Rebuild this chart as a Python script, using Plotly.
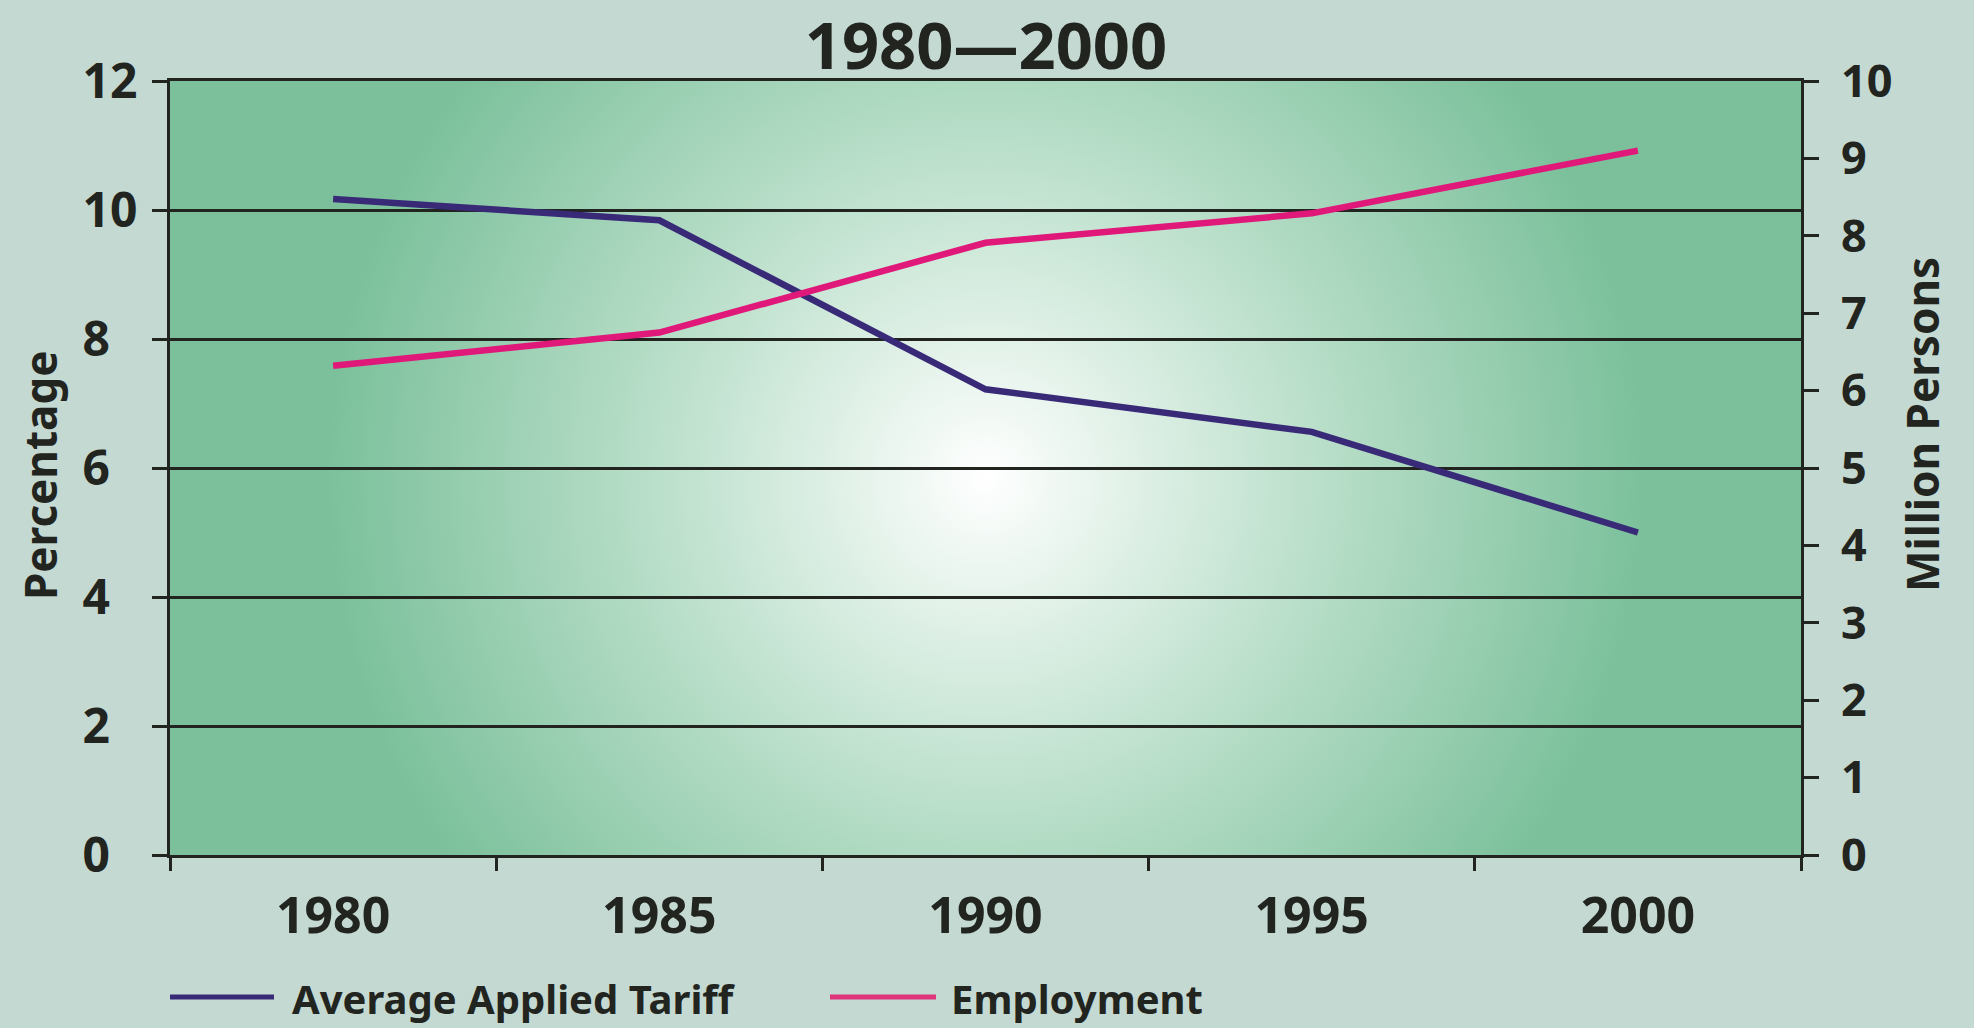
import base64
import plotly.graph_objects as go

# ---- data ----
years = ["1980", "1985", "1990", "1995", "2000"]
tariff = [10.17, 9.84, 7.22, 6.56, 5.0]          # Average Applied Tariff (%)
employment = [6.32, 6.75, 7.91, 8.29, 9.10]      # Employment (million persons)
left_ticks = [0, 2, 4, 6, 8, 10, 12]
left_ticktext = ["0\u2007", "2\u2007", "4\u2007", "6\u2007", "8\u2007", "10", "12"]
right_ticks = [0, 1, 2, 3, 4, 5, 6, 7, 8, 9, 10]
title_text = "1980\u20142000"
left_title = "Percentage"
right_title = "Million Persons"
series_names = ["Average Applied Tariff", "Employment"]

# ---- style ----
FONT = "Comic Sans MS, Noto Sans, sans-serif"
INK = "#222420"
NAVY = "#392A78"
PINK = "#E0187A"
PAPER = "#C4D9D2"
GREEN = "#7BC09B"

W, H = 1974, 1028
ML, MR, MT, MB = 170, 173, 81, 173
PW, PH = W - ML - MR, H - MT - MB

svg = f'''<svg xmlns="http://www.w3.org/2000/svg" width="{PW}" height="{PH}" viewBox="0 0 {PW} {PH}" preserveAspectRatio="none">
<defs><radialGradient id="g" gradientUnits="userSpaceOnUse" cx="816" cy="397" r="660">
<stop offset="0" stop-color="#FFFFFF"/><stop offset="0.5" stop-color="#BADFCA"/><stop offset="1" stop-color="{GREEN}"/>
</radialGradient></defs><rect x="0" y="0" width="{PW}" height="{PH}" fill="url(#g)"/></svg>'''
svg_uri = "data:image/svg+xml;base64," + base64.b64encode(svg.encode()).decode()

fig = go.Figure()
fig.add_trace(go.Scatter(x=years, y=tariff, name=series_names[0], mode="lines",
                         line=dict(color=NAVY, width=6.5), yaxis="y", showlegend=False))
fig.add_trace(go.Scatter(x=years, y=employment, name=series_names[1], mode="lines",
                         line=dict(color=PINK, width=6.5), yaxis="y2", showlegend=False))

def px_x(px):
    return (px - ML) / PW

def px_y(py):
    return (H - MB - py) / PH

annotations = [
    dict(text=left_title, x=px_x(40), y=px_y(476), xref="paper", yref="paper",
         textangle=-90, showarrow=False, xanchor="center", yanchor="middle",
         font=dict(family=FONT, size=44, color=INK, weight="bold")),
    dict(text=right_title, x=px_x(1922), y=px_y(425), xref="paper", yref="paper",
         textangle=-90, showarrow=False, xanchor="center", yanchor="middle",
         font=dict(family=FONT, size=44, color=INK, weight="bold")),
    dict(text=series_names[0], x=px_x(290), y=px_y(999), xref="paper", yref="paper",
         showarrow=False, xanchor="left", yanchor="middle",
         font=dict(family=FONT, size=40, color=INK, weight="bold")),
    dict(text=series_names[1], x=px_x(949), y=px_y(999), xref="paper", yref="paper",
         showarrow=False, xanchor="left", yanchor="middle",
         font=dict(family=FONT, size=40, color=INK, weight="bold")),
]
shapes = [
    dict(type="line", xref="paper", yref="paper", x0=px_x(170), x1=px_x(274),
         y0=px_y(997), y1=px_y(997), line=dict(color=NAVY, width=5)),
    dict(type="line", xref="paper", yref="paper", x0=px_x(830), x1=px_x(936),
         y0=px_y(997), y1=px_y(997), line=dict(color="#E0357A", width=5)),
]

fig.update_layout(
    template="none",
    width=W, height=H,
    margin=dict(l=ML, r=MR, t=MT, b=MB, pad=0),
    paper_bgcolor=PAPER,
    plot_bgcolor="rgba(0,0,0,0)",
    showlegend=False,
    title=dict(text=title_text, x=0.5003, xref="paper", xanchor="center",
               y=1 - 46 / H, yref="container", yanchor="middle",
               font=dict(family=FONT, size=65, color=INK, weight="bold")),
    xaxis=dict(type="category", range=[-0.5, 4.5], tickson="boundaries",
               ticks="outside", ticklen=13,
               tickwidth=2.5, tickcolor=INK, showline=True, linecolor=INK, linewidth=3,
               mirror=True, showgrid=False, zeroline=False, automargin=False,
               ticklabelstandoff=15,
               tickfont=dict(family=FONT, size=50, color=INK, weight="bold")),
    yaxis=dict(range=[0, 12], tickmode="array", tickvals=left_ticks, ticktext=left_ticktext,
               ticks="outside", ticklen=15, tickwidth=2.5, tickcolor=INK,
               showline=True, linecolor=INK, linewidth=3, showgrid=True,
               gridcolor=INK, gridwidth=2.5, zeroline=False, automargin=False,
               ticklabelstandoff=5,
               tickfont=dict(family=FONT, size=48, color=INK, weight="bold")),
    yaxis2=dict(range=[0, 10], overlaying="y", side="right", tickmode="array",
                tickvals=right_ticks, ticks="outside", ticklen=15, tickwidth=2.5,
                tickcolor=INK, showline=True, linecolor=INK, linewidth=3,
                showgrid=False, zeroline=False, automargin=False,
                ticklabelstandoff=13,
                tickfont=dict(family=FONT, size=45, color=INK, weight="bold")),
    images=[dict(source=svg_uri, xref="paper", yref="paper", x=0, y=1, sizex=1, sizey=1,
                 sizing="stretch", xanchor="left", yanchor="top", layer="below")],
    annotations=annotations,
    shapes=shapes,
)

fig.write_html("out.html", config={"displayModeBar": False},
               post_script="document.body.style.margin='0';document.body.style.overflow='hidden';")
